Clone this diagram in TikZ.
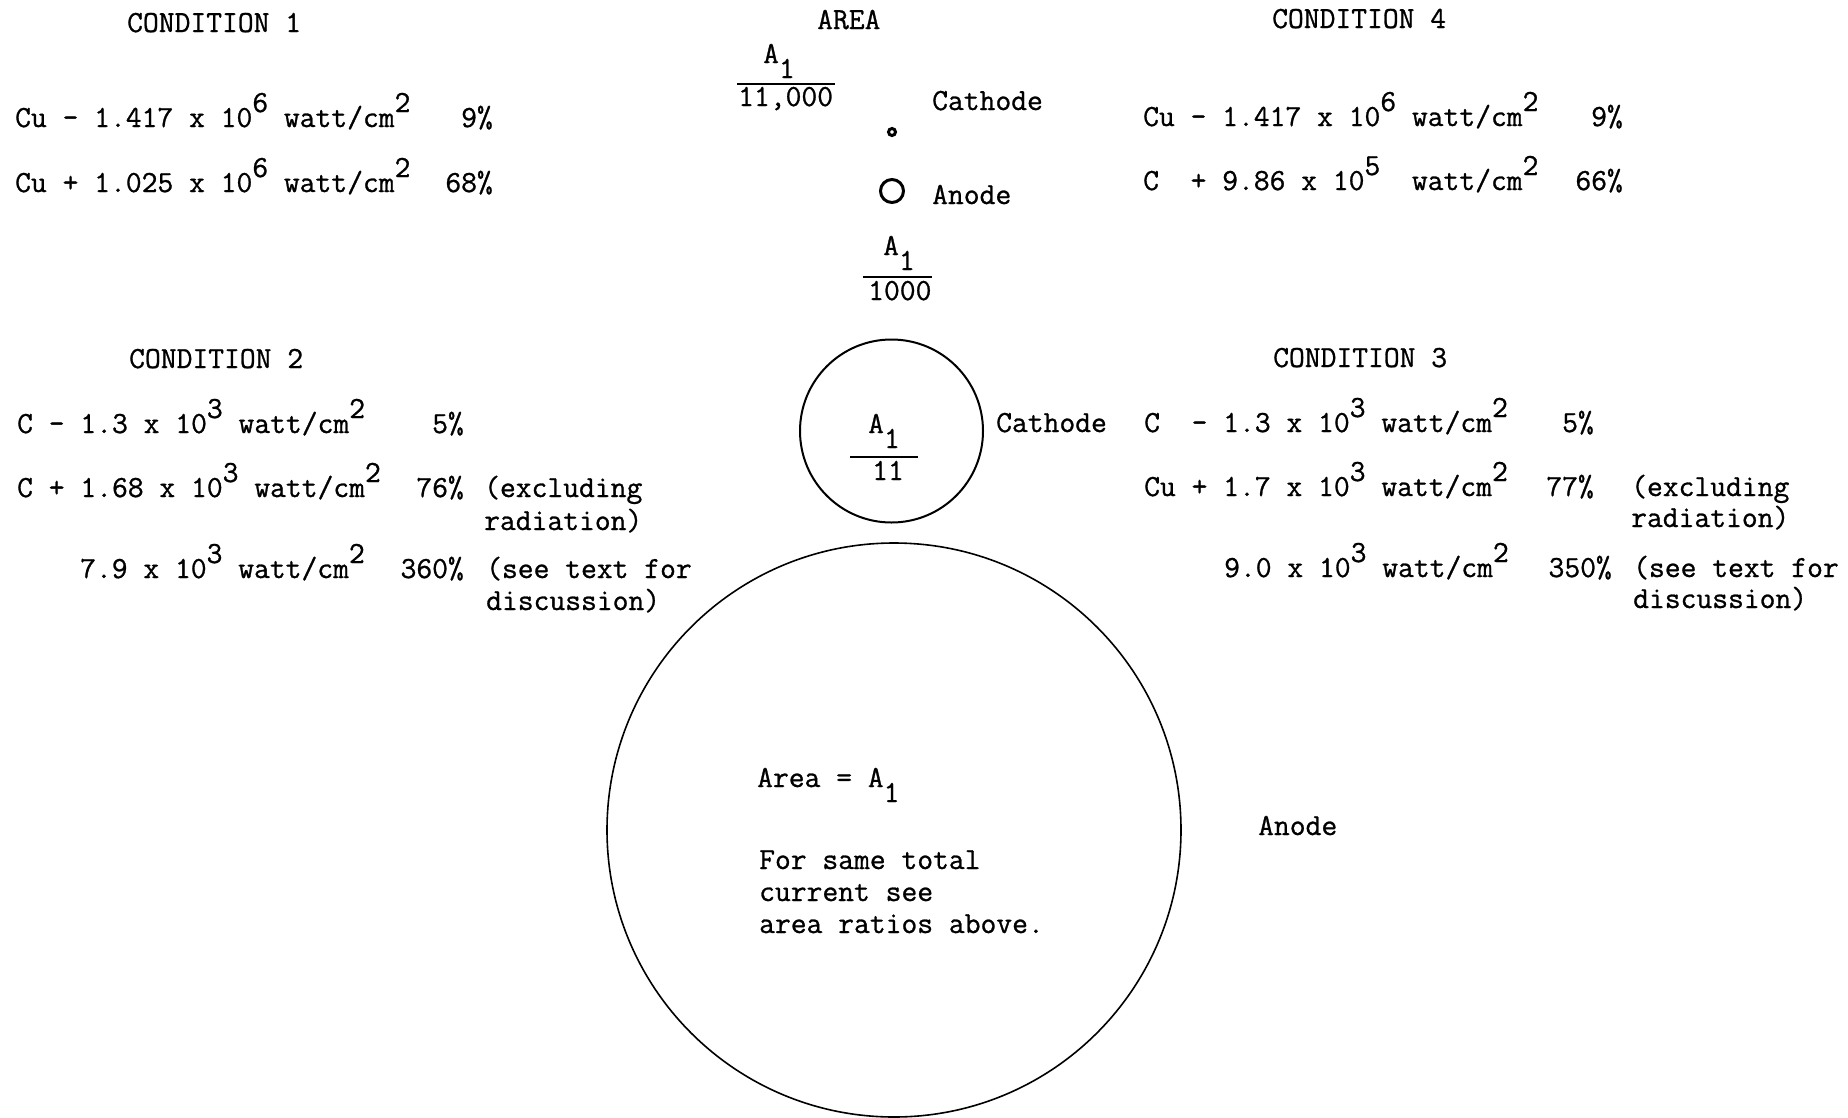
\documentclass[tikz,border=0pt]{standalone}
\usepackage{fontspec}
\usepackage{tikz}
\usetikzlibrary{positioning}
\newfontfamily\typerfont{Latin Modern Mono}[FakeBold=0.9]
\newcommand\tw{\fontsize{30.7}{32}\selectfont\typerfont}
\newcommand\sups[1]{\raisebox{15pt}{#1}}
\newcommand\subs[1]{\raisebox{-15pt}{#1}}
\tikzset{
  typed/.style={inner sep=0pt, anchor=base west, font=\tw},
  typed-r/.style={inner sep=0pt, anchor=base east, font=\tw},
  electrode/.style={draw, circle, inner sep=0pt, outer sep=0pt},
  frac-bar/.style={line width=2.6pt}
}

\begin{document}
\begin{tikzpicture}[x=1pt, y=-1pt]
\useasboundingbox (0,0) rectangle (1848,1117);
% headings
\node[typed] (area) at (817,29) {AREA};
\node[typed] (cond1) at (127,32) {CONDITION 1};
\node[typed] (cond4) at (1272,28) {CONDITION 4};
\node[typed] (cond2) at (129,368) {CONDITION 2};
\node[typed] (cond3) at (1273,367) {CONDITION 3};
% condition 1
\node[typed] (c1a) at (15,127) {Cu - 1.417 x 10\sups{6} watt/cm\sups{2}};
\node[typed-r] (c1ap) at (493,127) {9\%};
\node[typed] (c1b) at (15,192) {Cu + 1.025 x 10\sups{6} watt/cm\sups{2}};
\node[typed-r] (c1bp) at (493,192) {68\%};
% condition 4
\node[typed] (c4a) at (1143,126) {Cu - 1.417 x 10\sups{6} watt/cm\sups{2}};
\node[typed-r] (c4ap) at (1623,126) {9\%};
\node[typed] (c4b) at (1143,190) {C~~+ 9.86 x 10\sups{5}~~watt/cm\sups{2}};
\node[typed-r] (c4bp) at (1623,190) {66\%};
% condition 2
\node[typed] (c2a) at (17,433) {C - 1.3 x 10\sups{3} watt/cm\sups{2}};
\node[typed-r] (c2ap) at (464,433) {5\%};
\node[typed] (c2b) at (17,497) {C + 1.68 x 10\sups{3} watt/cm\sups{2}};
\node[typed-r] (c2bp) at (464,497) {76\%};
\node[typed] (c2bn) at (484,497) {(excluding};
\node[typed] (c2bm) at (484,530) {radiation)};
\node[typed] (c2c) at (80,578) {7.9 x 10\sups{3} watt/cm\sups{2}};
\node[typed-r] (c2cp) at (464,578) {360\%};
\node[typed] (c2cn) at (486,578) {(see text for};
\node[typed] (c2cm) at (486,610) {discussion)};
% condition 3
\node[typed] (c3a) at (1144,432) {C~~- 1.3 x 10\sups{3} watt/cm\sups{2}};
\node[typed-r] (c3ap) at (1594,432) {5\%};
\node[typed] (c3b) at (1144,496) {Cu + 1.7 x 10\sups{3} watt/cm\sups{2}};
\node[typed-r] (c3bp) at (1594,496) {77\%};
\node[typed] (c3bn) at (1631,496) {(excluding};
\node[typed] (c3bm) at (1631,527) {radiation)};
\node[typed] (c3c) at (1224,577) {9.0 x 10\sups{3} watt/cm\sups{2}};
\node[typed-r] (c3cp) at (1612,577) {350\%};
\node[typed] (c3cn) at (1633,577) {(see text for};
\node[typed] (c3cm) at (1633,608) {discussion)};
% area ratios
\foreach \i/\ax/\ay/\bx/\by/\bl/\dx/\dy/\den in {a/763/63/737/84/98/738/106/{11,000}, b/883/255/863/277/69/868/300/1000, c/868/433/850/457/68/872/480/11}{
  \node[typed] (num\i) at (\ax,\ay) {A\subs{1}};
  \node[typed] (den\i) at (\dx,\dy) {\den};
  \draw[frac-bar] (\bx,\by) -- ++(\bl,0);
}
% electrodes
\node[electrode, line width=3pt, minimum size=7pt] (cathtiny) at (892,132) {};
\node[electrode, line width=3pt, minimum size=23pt] (anodesmall) at (892,191) {};
\node[electrode, line width=2pt, minimum size=183pt] (cathmid) at (891.5,431) {};
\node[electrode, line width=1.6pt, minimum size=574pt] (anodebig) at (894,830) {};
\node[typed] (cathlbla) at (932,110) {Cathode};
\node[typed] (anodelbla) at (932,204) {Anode};
\node[typed] (cathlblb) at (996,432) {Cathode};
\node[typed] (anodelblb) at (1258,835) {Anode};
% inside big anode
\node[typed] (areaeq) at (757,787) {Area = A\subs{1}};
\node[typed] (samea) at (759,869) {For same total};
\node[typed] (sameb) at (759,901) {current see};
\node[typed] (samec) at (759,933) {area ratios above.};
\end{tikzpicture}
\end{document}
